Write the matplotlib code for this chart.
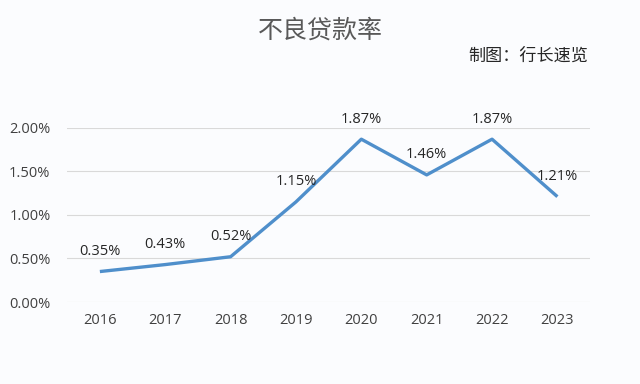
#Non-performing loan ratio line chart

import numpy as np
import matplotlib.pyplot as plt

plt.rcParams['font.family'] = ['Open Sans', 'Noto Sans CJK SC', 'DejaVu Sans']

#Data
years = ['2016', '2017', '2018', '2019', '2020', '2021', '2022', '2023']
npl_ratio = [0.35, 0.43, 0.52, 1.15, 1.87, 1.46, 1.87, 1.21]
yticks = [0.0, 0.5, 1.0, 1.5, 2.0]

#Figure
fig = plt.figure(figsize=(6.4, 3.84), dpi=100, facecolor='#fbfcfe')
ax = fig.add_axes([0.105, 0.2135, 0.817, 0.4535])
ax.set_facecolor('#fbfcfe')

x = np.arange(len(years))
ax.plot(x, npl_ratio, color='#4f8fcb', linewidth=2.4, solid_capstyle='butt')

#Data labels
for xi, v in zip(x, npl_ratio):
    ax.annotate('%.2f%%' % v, (xi, v), xytext=(0, 9), textcoords='offset points',
                ha='center', va='bottom', fontsize=10.5, color='#262626')

ax.set_xlim(-0.5, len(years) - 0.5)
ax.set_ylim(0, 2.0)
ax.set_xticks(x)
ax.set_xticklabels(years)
ax.set_yticks(yticks)
ax.set_yticklabels(['%.2f%%' % t for t in yticks])
ax.tick_params(length=0, labelsize=10.5, labelcolor='#404040', pad=8)
ax.tick_params(axis='y', pad=12)
ax.grid(axis='y', color='#d9d9d9', linewidth=0.8)
ax.set_axisbelow(True)
for s in ax.spines.values():
    s.set_visible(False)

#Titles
fig.text(0.5, 0.92, '不良贷款率', ha='center', va='center', fontsize=18,
         color='#595959', family=['Noto Sans CJK SC', 'DejaVu Sans'], fontweight='light')
fig.text(0.919, 0.855, '制图：行长速览', ha='right', va='center', fontsize=12.3,
         color='#262626', family=['Noto Sans CJK SC', 'DejaVu Sans'])

plt.savefig('out.png', dpi=100, facecolor=fig.get_facecolor())
